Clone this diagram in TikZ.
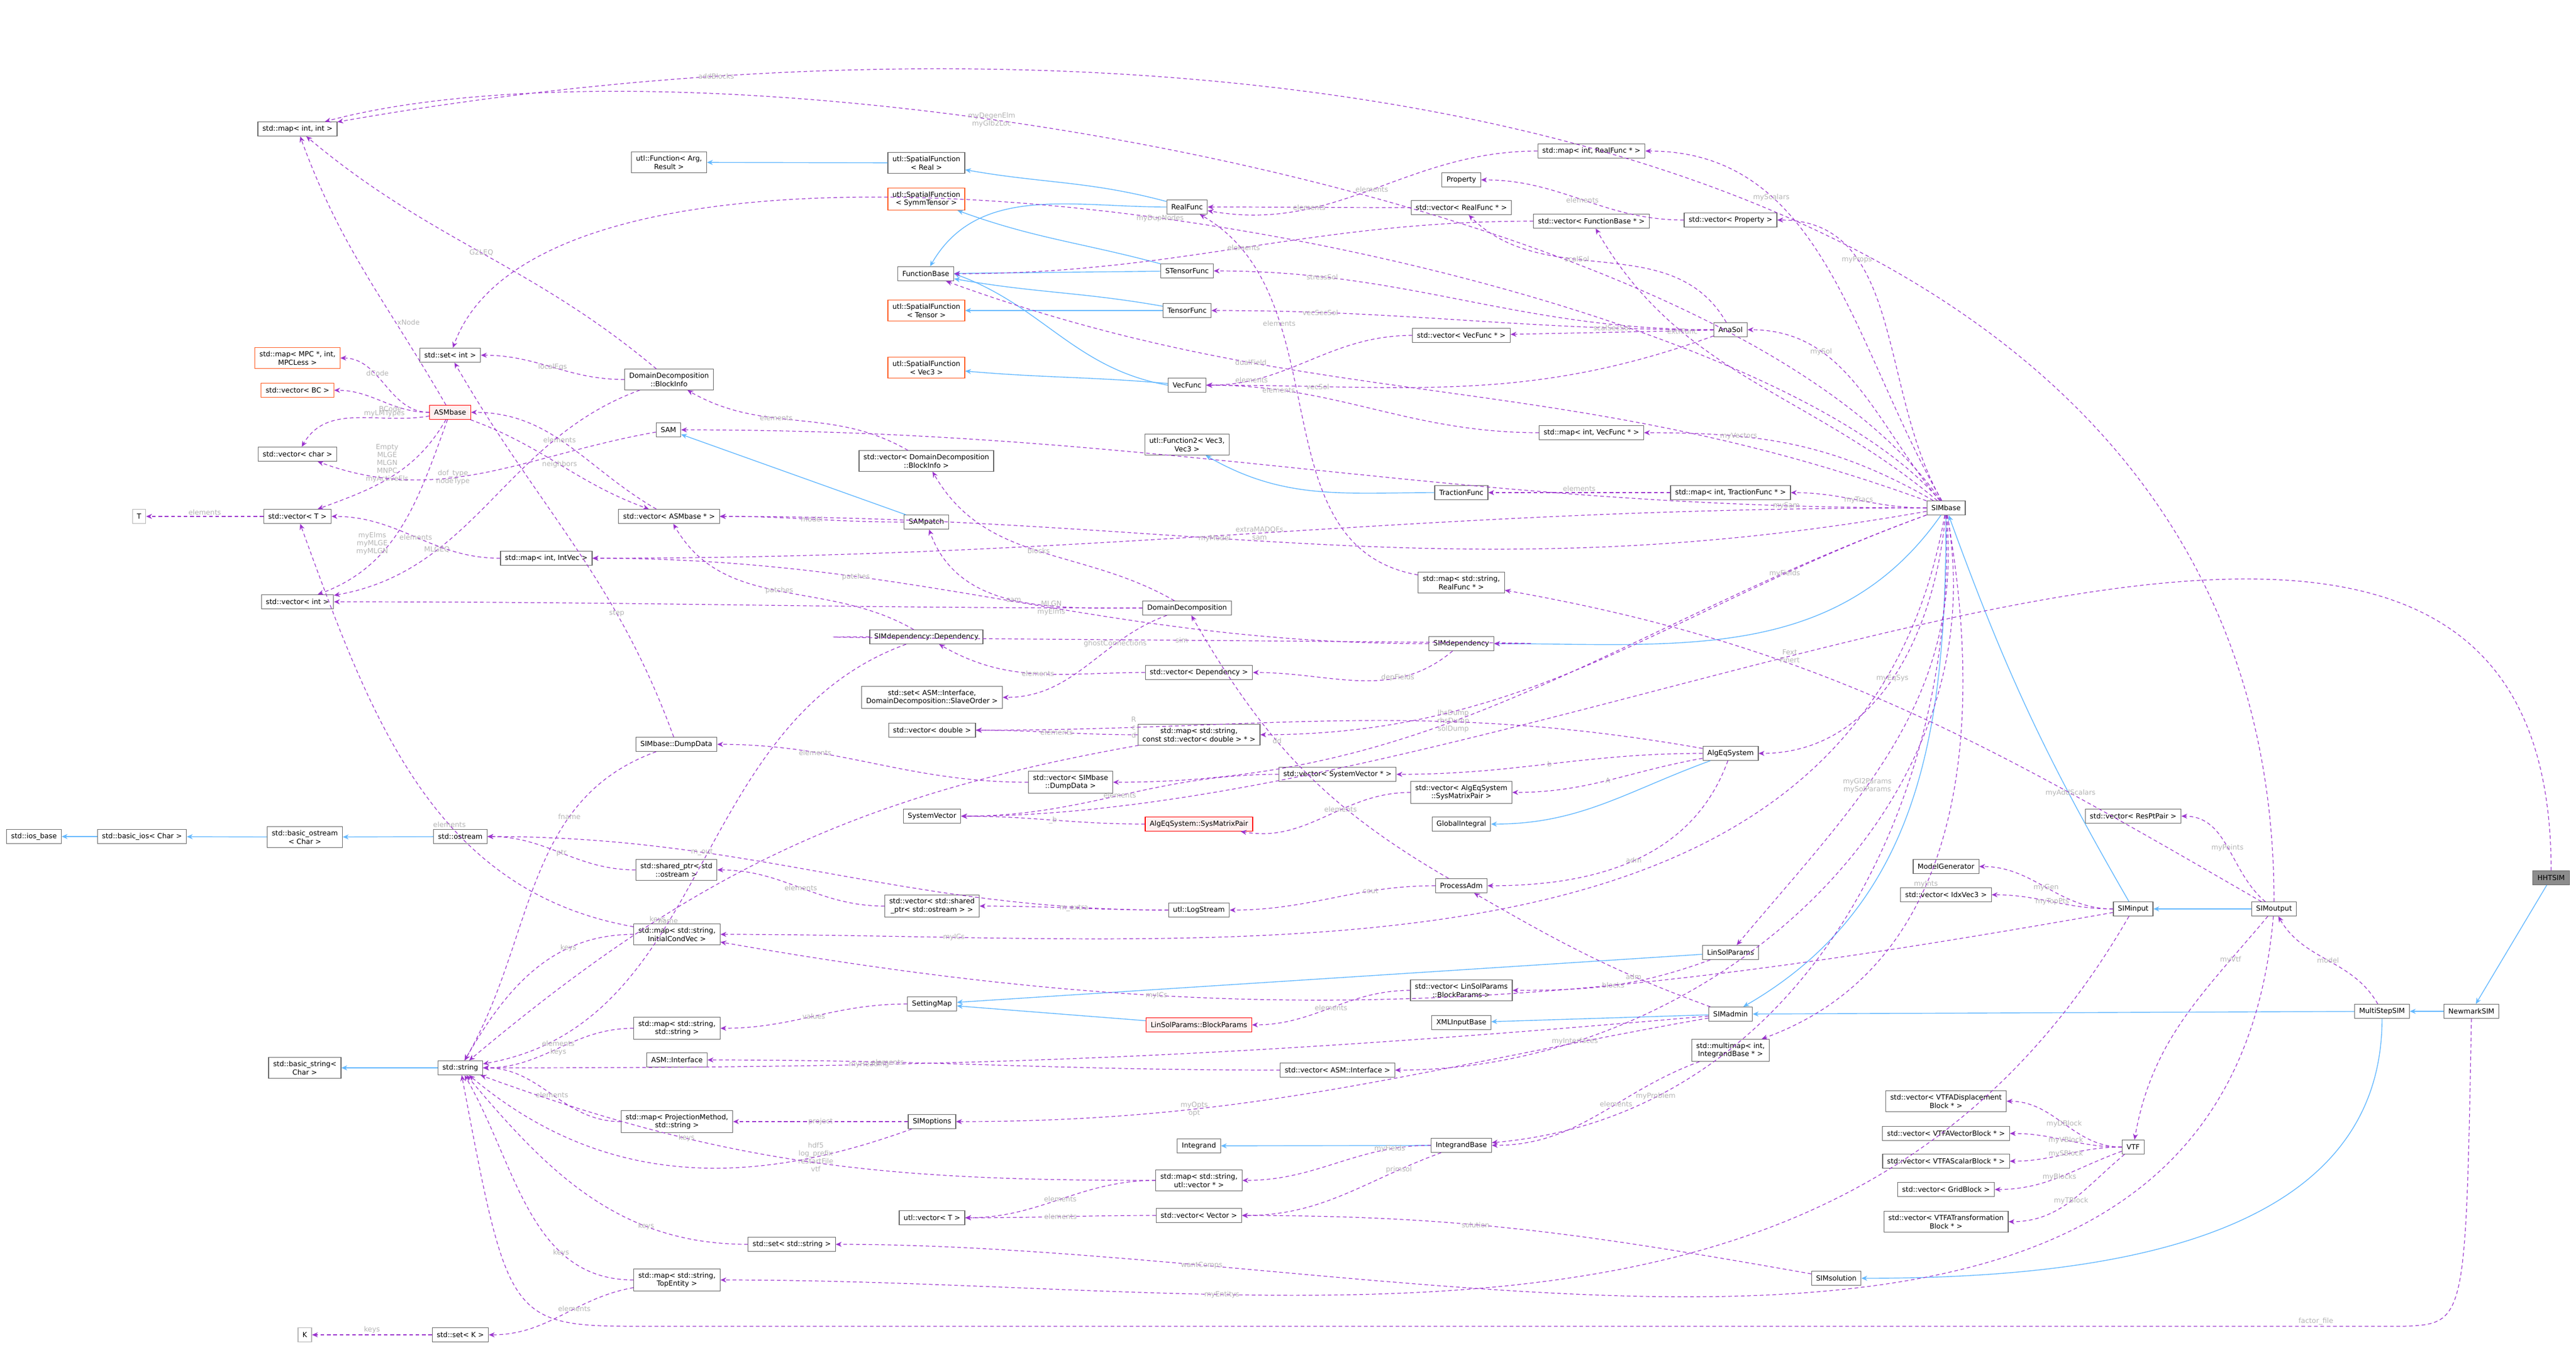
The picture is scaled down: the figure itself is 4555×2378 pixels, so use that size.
\documentclass[tikz,border=0pt]{standalone}
\usepackage{fontspec}
\setmainfont{DejaVu Sans}
\usetikzlibrary{arrows.meta}
\definecolor{dcol}{HTML}{9A32CD}
\definecolor{icol}{HTML}{63B8FF}
\definecolor{lcol}{HTML}{B4B4B4}
\definecolor{bcol}{HTML}{666666}
\definecolor{ocol}{HTML}{FF5A1F}
\tikzset{
  box/.style={draw=bcol,line width=0.3pt,fill=white,font=\fontsize{3.1}{3.7}\selectfont,inner xsep=2pt,inner ysep=1.5pt,minimum height=6.2pt,align=center},
  obox/.style={box,draw=ocol},
  rbox/.style={box,draw=red,fill=red!6},
  gbox/.style={box,draw=lcol},
  dep/.style={draw=dcol,line width=0.3pt,dash pattern=on 1.6pt off 1.2pt,-{Stealth[length=2.6pt,width=2.2pt]}},
  inh/.style={draw=icol,line width=0.35pt,-{Stealth[length=2.6pt,width=2.2pt,fill=icol]}},
  lbl/.style={font=\fontsize{3.1}{3.5}\selectfont,text=lcol,align=center,inner sep=0.5pt},
  lr/.style={out=180,in=0}
}
\begin{document}
\begin{tikzpicture}[x=0.25pt,y=-0.25pt]
\useasboundingbox (0,0) rectangle (4555,2378);

% column 1
\node[box] (mapii) at (526,228) {std::map< int, int >};
\node[obox] (mapmpc) at (526,633) {std::map< MPC *, int,\\ MPCLess >};
\node[obox] (vecbc) at (526,690) {std::vector< BC >};
\node[box] (vecchar) at (526,803) {std::vector< char >};
\node[gbox] (tt) at (246,913) {T};
\node[box] (vect) at (526,913) {std::vector< T >};
\node[box] (vecint) at (526,1064) {std::vector< int >};
\node[box] (iosbase) at (60,1479) {std::ios\_base};
\node[box] (basicios) at (251,1479) {std::basic\_ios< Char >};
\node[box] (basicostream) at (539,1480) {std::basic\_ostream\\< Char >};
\node[box] (basicstring) at (539,1888) {std::basic\_string<\\ Char >};
\node[gbox] (kk) at (539,2360) {K};

% column 2
\node[rbox] (asmb) at (796,729) {ASMbase};
\node[box] (setint) at (796,628) {std::set< int >};
\node[box] (ostream) at (814,1479) {std::ostream};
\node[box] (str) at (814,1888) {std::string};
\node[box] (setk) at (814,2360) {std::set< K >};
\node[box] (mapintvec) at (966,987) {std::map< int, IntVec >};

% column 3
\node[box] (fnarg) at (1183,287) {utl::Function< Arg,\\ Result >};
\node[box] (blockinfo) at (1183,671) {DomainDecomposition\\::BlockInfo};
\node[box] (sam) at (1182,760) {SAM};
\node[box] (vecasm) at (1183,913) {std::vector< ASMbase * >};
\node[box] (dumpdata) at (1196,1316) {SIMbase::DumpData};
\node[box] (sharedptr) at (1196,1538) {std::shared\_ptr< std\\::ostream >};
\node[box] (mapic) at (1197,1652) {std::map< std::string,\\ InitialCondVec >};
\node[box] (mapss) at (1197,1818) {std::map< std::string,\\ std::string >};
\node[box] (asmif) at (1197,1874) {ASM::Interface};
\node[box] (mapproj) at (1197,1983) {std::map< ProjectionMethod,\\ std::string >};
\node[box] (setstr) at (1400,2200) {std::set< std::string >};
\node[box] (maptop) at (1197,2263) {std::map< std::string,\\ TopEntity >};

% column 4
\node[box] (sfreal) at (1638,288) {utl::SpatialFunction\\< Real >};
\node[obox] (sfsym) at (1638,352) {utl::SpatialFunction\\< SymmTensor >};
\node[box] (funcbase) at (1637,484) {FunctionBase};
\node[obox] (sften) at (1638,549) {utl::SpatialFunction\\< Tensor >};
\node[obox] (sfvec) at (1638,650) {utl::SpatialFunction\\< Vec3 >};
\node[box] (vecblock) at (1638,815) {std::vector< DomainDecomposition\\::BlockInfo >};
\node[box] (sampatch) at (1638,923) {SAMpatch};
\node[box] (dependency) at (1638,1126) {SIMdependency::Dependency};
\node[box] (setslave) at (1648,1233) {std::set< ASM::Interface,\\ DomainDecomposition::SlaveOrder >};
\node[box] (vecdouble) at (1648,1291) {std::vector< double >};
\node[box] (vecdump) at (1893,1383) {std::vector< SIMbase\\::DumpData >};
\node[box] (sysvec) at (1648,1443) {SystemVector};
\node[box] (vecshared) at (1648,1602) {std::vector< std::shared\\\_ptr< std::ostream > >};
\node[box] (settingmap) at (1648,1775) {SettingMap};
\node[box] (simoptions) at (1648,1983) {SIMoptions};
\node[box] (utlvec) at (1648,2153) {utl::vector< T >};

% column 5
\node[box] (realfunc) at (2099,366) {RealFunc};
\node[box] (stensor) at (2099,479) {STensorFunc};
\node[box] (tensorf) at (2099,549) {TensorFunc};
\node[box] (vecfunc) at (2099,681) {VecFunc};
\node[box] (fn2) at (2099,786) {utl::Function2< Vec3,\\ Vec3 >};
\node[box] (domdec) at (2099,1075) {DomainDecomposition};
\node[box] (vecdep) at (2120,1189) {std::vector< Dependency >};
\node[box] (mapfields) at (2120,1299) {std::map< std::string,\\ const std::vector< double > * >};
\node[rbox] (smpair) at (2120,1457) {AlgEqSystem::SysMatrixPair};
\node[box] (logstream) at (2120,1609) {utl::LogStream};
\node[rbox] (blockparams) at (2120,1812) {LinSolParams::BlockParams};
\node[box] (integrand) at (2120,2026) {Integrand};
\node[box] (mapuvec) at (2120,2087) {std::map< std::string,\\ utl::vector * >};
\node[box] (vecvector) at (2120,2149) {std::vector< Vector >};
\node[box] (vecsysvec) at (2365,1369) {std::vector< SystemVector * >};
\node[box] (vecasmif) at (2365,1892) {std::vector< ASM::Interface >};

% column 6
\node[box] (maprealint) at (2814,267) {std::map< int, RealFunc * >};
\node[box] (property) at (2584,318) {Property};
\node[box] (vecrealf) at (2584,367) {std::vector< RealFunc * >};
\node[box] (vecfb) at (2814,391) {std::vector< FunctionBase * >};
\node[box] (vecvecf) at (2584,593) {std::vector< VecFunc * >};
\node[box] (mapvecf) at (2814,765) {std::map< int, VecFunc * >};
\node[box] (traction) at (2584,871) {TractionFunc};
\node[box] (mapstrreal) at (2584,1030) {std::map< std::string,\\ RealFunc * >};
\node[box] (simdep) at (2584,1138) {SIMdependency};
\node[box] (vecsmp) at (2584,1401) {std::vector< AlgEqSystem\\::SysMatrixPair >};
\node[box] (globint) at (2584,1457) {GlobalIntegral};
\node[box] (procadm) at (2584,1566) {ProcessAdm};
\node[box] (vecbp) at (2584,1751) {std::vector< LinSolParams\\::BlockParams >};
\node[box] (xmlin) at (2584,1808) {XMLInputBase};
\node[box] (integbase) at (2584,2025) {IntegrandBase};

% column 7
\node[box] (vecprop) at (3060,389) {std::vector< Property >};
\node[box] (anasol) at (3060,583) {AnaSol};
\node[box] (maptrac) at (3060,871) {std::map< int, TractionFunc * >};
\node[box] (algeq) at (3060,1332) {AlgEqSystem};
\node[box] (linsol) at (3060,1684) {LinSolParams};
\node[box] (simadmin) at (3060,1793) {SIMadmin};
\node[box] (multimap) at (3060,1857) {std::multimap< int,\\ IntegrandBase * >};
\node[box] (simsol) at (3247,2260) {SIMsolution};

% right part
\node[box] (simbase) at (3441,898) {SIMbase};
\node[box] (modelgen) at (3441,1532) {ModelGenerator};
\node[box] (vecidx) at (3441,1582) {std::vector< IdxVec3 >};
\node[box] (vtfdisp) at (3441,1947) {std::vector< VTFADisplacement\\ Block * >};
\node[box] (vtfvec) at (3441,2004) {std::vector< VTFAVectorBlock * >};
\node[box] (vtfscal) at (3441,2053) {std::vector< VTFAScalarBlock * >};
\node[box] (gridblock) at (3441,2103) {std::vector< GridBlock >};
\node[box] (vtftrans) at (3441,2160) {std::vector< VTFATransformation\\ Block * >};
\node[box] (vecrespt) at (3772,1443) {std::vector< ResPtPair >};
\node[box] (siminput) at (3772,1607) {SIMinput};
\node[box] (vtf) at (3772,2028) {VTF};
\node[box] (simoutput) at (4021,1607) {SIMoutput};
\node[box] (multistep) at (4212,1788) {MultiStepSIM};
\node[box] (newmark) at (4370,1788) {NewmarkSIM};
\node[box,fill=black!45] (hhtsim) at (4511,1552) {HHTSIM};

% inheritance
\draw[inh] (basicios) -- (iosbase);
\draw[inh] (basicostream) -- (basicios);
\draw[inh] (ostream) -- (basicostream);
\draw[inh] (str) -- (basicstring);
\draw[inh] (sfreal) -- (fnarg);
\draw[inh] (realfunc) to[out=165,in=-10] (sfreal);
\draw[inh] (realfunc.west) to[out=180,in=60] (funcbase);
\draw[inh] (stensor) to[out=165,in=-20] (sfsym);
\draw[inh] (stensor) -- (funcbase);
\draw[inh] (tensorf) -- (sften);
\draw[inh] (tensorf) to[out=170,in=-10] (funcbase);
\draw[inh] (vecfunc) to[out=175,in=-5] (sfvec);
\draw[inh] (vecfunc.west) to[out=170,in=-20] (funcbase.east);
\draw[inh] (traction) to[out=180,in=-30] (fn2);
\draw[inh] (sampatch) -- (sam);
\draw[inh] (simbase) to[out=235,in=0] (simdep);
\draw[inh] (algeq) to[out=200,in=0] (globint);
\draw[inh] (linsol) -- (settingmap);
\draw[inh] (blockparams) -- (settingmap);
\draw[inh] (simadmin) -- (xmlin);
\draw[inh] (simbase) to[out=270,in=30] (simadmin);
\draw[inh] (integbase) -- (integrand);
\draw[inh] (siminput) to[out=120,in=-70] (simbase);
\draw[inh] (simoutput) -- (siminput);
\draw[inh] (multistep) -- (simadmin);
\draw[inh] (multistep) to[out=-90,in=0] (simsol);
\draw[inh] (newmark) -- (multistep);
\draw[inh] (hhtsim) -- (newmark);

% members
\draw[dep] (vect) -- node[lbl,above]{elements} (tt);
\draw[dep] (setk) -- node[lbl,above]{keys} (kk);
\draw[dep] (asmb) to[out=120,in=-70] node[lbl,pos=0.3,right]{xNode} (mapii);
\draw[dep] (asmb) to[lr] node[lbl,pos=0.6,above]{dCode} (mapmpc);
\draw[dep] (asmb) to[lr] node[lbl,pos=0.4,below]{BCode} (vecbc);
\draw[dep] (asmb) to[out=190,in=60] node[lbl,pos=0.3,above]{myLMTypes} (vecchar);
\draw[dep] (asmb) to[out=240,in=20] node[lbl,pos=0.35,left]{Empty\\MLGE\\MLGN\\MNPC\\myActiveEls} (vect);
\draw[dep] (asmb) to[out=250,in=20] node[lbl,pos=0.6,left]{myElms\\myMLGE\\myMLGN} (vecint);
\draw[dep] (asmb) to[out=-20,in=160] node[lbl]{neighbors} (vecasm);
\draw[dep] (vecasm) to[out=150,in=0] node[lbl,pos=0.55]{elements} (asmb);
\draw[dep] (blockinfo) to[out=140,in=-40] node[lbl]{G2LEQ} (mapii);
\draw[dep] (blockinfo) to[lr] node[lbl]{localEqs} (setint);
\draw[dep] (blockinfo) to[out=200,in=10] node[lbl,pos=0.7]{MLGEQ} (vecint);
\draw[dep] (sam) to[out=190,in=-20] node[lbl,pos=0.6]{dof\_type\\nodeType} (vecchar);
\draw[dep] (mapintvec) to[out=180,in=0] node[lbl]{elements} (vect);
\draw[dep] (sampatch) to[lr] node[lbl]{model} (vecasm);
\draw[dep] (vecblock) to[out=150,in=-30] node[lbl,pos=0.6]{elements} (blockinfo);
\draw[dep] (domdec) to[out=150,in=-60] node[lbl]{blocks} (vecblock);
\draw[dep] (domdec) to[out=180,in=-70] node[lbl]{sam} (sampatch);
\draw[dep] (domdec) to[lr] node[lbl,pos=0.1]{MLGN\\myElms} (vecint);
\draw[dep] (domdec) to[out=200,in=0] node[lbl,pos=0.3]{ghostConnections} (setslave);
\draw[dep] (dependency) to[out=150,in=-60] node[lbl]{patches} (vecasm);
\draw[dep] (dependency) to[lr] node[lbl]{sim} (simdep);
\draw[dep] (vecdep) to[out=180,in=-30] node[lbl]{elements} (dependency);
\draw[dep] (simdep) to[out=220,in=0] node[lbl,pos=0.3]{depFields} (vecdep);
\draw[dep] (simdep) to[out=180,in=0] node[lbl,pos=0.7]{patches} (mapintvec);
\draw[dep] (dependency) to[out=200,in=10] node[lbl,pos=0.6]{name} (str);
\draw[dep] (simbase) to[out=125,in=15,looseness=0.6] node[lbl,pos=0.6]{myDegenElm\\myGlb2Loc} (mapii);
\draw[dep] (simbase) to[out=130,in=70,looseness=0.55] node[lbl,pos=0.5]{myDupNodes} (setint);
\draw[dep] (simbase) to[out=180,in=0] node[lbl,pos=0.1]{mySam} (sam);
\draw[dep] (simbase) to[out=180,in=0] node[lbl,pos=0.5]{extraMADOFs\\sam} (mapintvec);
\draw[dep] (simbase) to[out=190,in=0] node[lbl,pos=0.6]{myModel} (vecasm);
\draw[dep] (maprealint) to[out=180,in=-10] node[lbl]{elements} (realfunc);
\draw[dep] (vecrealf) to[lr] node[lbl]{elements} (realfunc);
\draw[dep] (mapstrreal) to[out=170,in=-30] node[lbl,pos=0.7]{elements} (realfunc);
\draw[dep] (vecfb) to[out=180,in=0] node[lbl]{elements} (funcbase);
\draw[dep] (vecvecf) to[lr] node[lbl,pos=0.8]{elements} (vecfunc);
\draw[dep] (mapvecf) to[lr] node[lbl,pos=0.8]{elements} (vecfunc);
\draw[dep] (maptrac) -- node[lbl,above]{elements} (traction);
\draw[dep] (vecprop) to[lr] node[lbl]{elements} (property);
\draw[dep] (anasol) to[out=120,in=-45] node[lbl,pos=0.6]{scalSol} (vecrealf);
\draw[dep] (anasol) to[lr] node[lbl,pos=0.8]{stressSol} (stensor);
\draw[dep] (anasol) to[lr] node[lbl,pos=0.8]{vecSecSol} (tensorf);
\draw[dep] (anasol) -- node[lbl,above]{scalSecSol} (vecvecf);
\draw[dep] (anasol) to[out=200,in=0] node[lbl,pos=0.8]{vecSol} (vecfunc);
\draw[dep] (simbase) to[out=120,in=0] node[lbl,pos=0.7]{myScalars} (maprealint);
\draw[dep] (simbase) to[out=120,in=0] node[lbl,pos=0.7]{myProps} (vecprop);
\draw[dep] (simbase) to[out=140,in=-60] node[lbl,pos=0.7]{extrFunc} (vecfb);
\draw[dep] (simbase) to[out=130,in=0] node[lbl,pos=0.7]{mySol} (anasol);
\draw[dep] (simbase) to[out=150,in=0] node[lbl,pos=0.7]{myVectors} (mapvecf);
\draw[dep] (simbase) to[out=160,in=-20] node[lbl,pos=0.7]{dualField} (funcbase);
\draw[dep] (simbase) to[out=180,in=0] node[lbl]{myTracs} (maptrac);
\draw[dep] (simbase) to[out=-95,in=0] node[lbl,pos=0.5]{myEqSys} (algeq);
\draw[dep] (simbase) to[out=-85,in=50] node[lbl,pos=0.6]{myGl2Params\\mySolParams} (linsol);
\draw[dep] (simbase) to[out=-80,in=20] node[lbl,pos=0.6]{myInts} (multimap);
\draw[dep] (simbase) to[out=-80,in=0] node[lbl,pos=0.8]{myInterfaces} (vecasmif);
\draw[dep] (simbase) to[out=-88,in=5] node[lbl,pos=0.8]{myProblem} (integbase);
\draw[dep] (simbase) to[out=200,in=0] node[lbl,pos=0.6]{lhsDump\\rhsDump\\solDump} (vecdump);
\draw[dep] (simbase) to[out=200,in=0] node[lbl,pos=0.2]{myFields} (mapfields);
\draw[dep] (simbase) to[out=-100,in=0] node[lbl,pos=0.85]{myICs} (mapic);
\draw[dep] (vecdump) to[out=180,in=0] node[lbl,pos=0.7]{elements} (dumpdata);
\draw[dep] (dumpdata) to[out=200,in=60] node[lbl,pos=0.3]{fname} (str);
\draw[dep] (dumpdata) to[out=110,in=-60] node[lbl,pos=0.3]{step} (setint);
\draw[dep] (mapfields) to[lr] node[lbl]{elements} (vecdouble);
\draw[dep] (mapfields) to[out=190,in=40] node[lbl,pos=0.7]{keys} (str);
\draw[dep] (algeq) to[out=170,in=0] node[lbl,pos=0.8]{R\\c\\d} (vecdouble);
\draw[dep] (algeq) to[out=180,in=0] node[lbl]{b} (vecsysvec);
\draw[dep] (algeq) to[out=190,in=0] node[lbl]{A} (vecsmp);
\draw[dep] (algeq) to[out=250,in=0] node[lbl]{adm} (procadm);
\draw[dep] (vecsysvec) to[lr] node[lbl]{elements} (sysvec);
\draw[dep] (smpair) to[lr] node[lbl]{\_b} (sysvec);
\draw[dep] (vecsmp) to[out=180,in=-10] node[lbl,pos=0.4]{elements} (smpair);
\draw[dep] (procadm) to[lr] node[lbl,pos=0.3]{cout} (logstream);
\draw[dep] (procadm) to[out=150,in=-60] node[lbl,pos=0.6]{dd} (domdec);
\draw[dep] (logstream) to[lr] node[lbl,pos=0.7]{m\_out} (ostream);
\draw[dep] (logstream) to[lr] node[lbl]{m\_extra} (vecshared);
\draw[dep] (vecshared) to[lr] node[lbl]{elements} (sharedptr);
\draw[dep] (sharedptr) to[lr] node[lbl]{ptr} (ostream);
\draw[dep] (mapic) to[out=180,in=60] node[lbl,pos=0.3]{keys} (str);
\draw[dep] (mapic) to[out=170,in=-70] node[lbl,pos=0.4]{elements} (vect);
\draw[dep] (settingmap) to[lr] node[lbl]{values} (mapss);
\draw[dep] (mapss) to[lr] node[lbl]{elements\\keys} (str);
\draw[dep] (linsol) to[out=200,in=0] node[lbl]{blocks} (vecbp);
\draw[dep] (vecbp) to[lr] node[lbl]{elements} (blockparams);
\draw[dep] (simadmin) to[out=160,in=-30] node[lbl,pos=0.3]{adm} (procadm);
\draw[dep] (simadmin) to[out=190,in=0] node[lbl,pos=0.7]{myOpts\\opt} (simoptions);
\draw[dep] (simadmin) to[out=185,in=0] node[lbl,pos=0.7]{myHeading} (str);
\draw[dep] (vecasmif) to[lr] node[lbl,pos=0.7]{elements} (asmif);
\draw[dep] (simoptions) to[lr] node[lbl]{project} (mapproj);
\draw[dep] (mapproj) to[lr] node[lbl]{elements} (str);
\draw[dep] (simoptions) to[out=200,in=-40] node[lbl,pos=0.2]{hdf5\\log\_prefix\\restartFile\\vtf} (str);
\draw[dep] (integbase) to[lr] node[lbl,pos=0.2]{myFields} (mapuvec);
\draw[dep] (integbase) to[out=200,in=0] node[lbl,pos=0.2]{primsol} (vecvector);
\draw[dep] (mapuvec) to[lr] node[lbl]{elements} (utlvec);
\draw[dep] (mapuvec) to[out=180,in=-20] node[lbl,pos=0.7]{keys} (str);
\draw[dep] (vecvector) to[lr] node[lbl]{elements} (utlvec);
\draw[dep] (multimap) to[out=200,in=0] node[lbl,pos=0.4]{elements} (integbase);
\draw[dep] (simsol) to[out=170,in=0] node[lbl,pos=0.6]{solution} (vecvector);
\draw[dep] (simoutput) to[out=-95,in=0] node[lbl,pos=0.8]{wantComps} (setstr);
\draw[dep] (setstr) to[out=180,in=-50] node[lbl,pos=0.3]{keys} (str);
\draw[dep] (siminput) to[out=240,in=0] node[lbl,pos=0.7]{myEntitys} (maptop);
\draw[dep] (maptop) to[out=180,in=-60] node[lbl,pos=0.3]{keys} (str);
\draw[dep] (maptop) to[out=190,in=0] node[lbl,pos=0.4]{elements} (setk);
\draw[dep] (siminput) to[lr] node[lbl]{myGen} (modelgen);
\draw[dep] (siminput) to[lr] node[lbl]{myTopPts} (vecidx);
\draw[dep] (siminput) to[out=190,in=-10] node[lbl,pos=0.7]{myICs} (mapic);
\draw[dep] (simoutput) to[out=140,in=0] node[lbl]{myPoints} (vecrespt);
\draw[dep] (simoutput) to[out=230,in=80] node[lbl,pos=0.2]{myVtf} (vtf);
\draw[dep] (simoutput) to[out=90,in=10] node[lbl,pos=0.85]{addBlocks} (mapii);
\draw[dep] (simoutput) to[out=150,in=-10] node[lbl,pos=0.25]{myAddScalars} (mapstrreal);
\draw[dep] (multistep) to[out=120,in=-60] node[lbl]{model} (simoutput);
\draw[dep] (vtf) to[lr] node[lbl]{myDBlock} (vtfdisp);
\draw[dep] (vtf) to[lr] node[lbl]{myVBlock} (vtfvec);
\draw[dep] (vtf) to[lr] node[lbl]{mySBlock} (vtfscal);
\draw[dep] (vtf) to[out=200,in=0] node[lbl]{myBlocks} (gridblock);
\draw[dep] (vtf) to[out=220,in=0] node[lbl]{myTBlock} (vtftrans);
\draw[dep] (hhtsim) to[out=90,in=0] node[lbl,pos=0.6]{Fext\\Finert} (sysvec);
\draw[dep] (newmark.south) .. controls (4360,2340) .. (4250,2345) -- node[lbl,pos=0.05,above]{factor\_file} (1150,2345) .. controls (900,2345) .. (str);
\end{tikzpicture}
\end{document}
